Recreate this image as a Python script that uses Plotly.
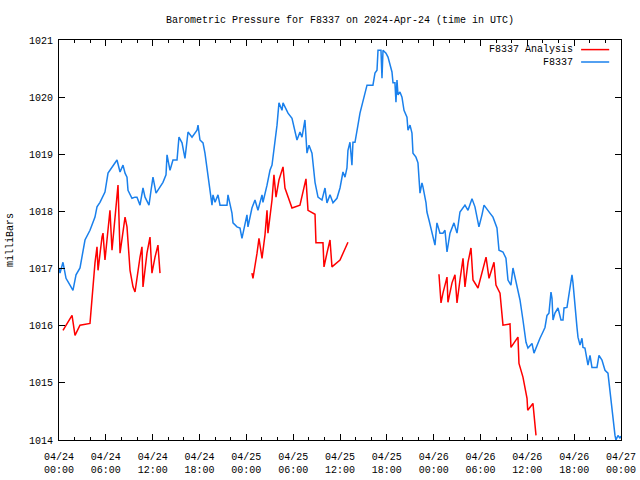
import pandas as pd
import plotly.graph_objects as go

START = "2024-04-24 00:00"
TITLE = "Barometric Pressure for F8337 on 2024-Apr-24 (time in UTC)"
Y_TITLE = "milliBars"
NAME_ANALYSIS = "F8337 Analysis"
NAME_OBS = "F8337"

# Observed series (hours since 04/24 00:00 UTC, millibars)
obs_hours = [
    0.00, 0.13, 0.51, 0.90, 1.41, 1.79, 2.18, 2.69, 3.33, 3.97, 4.61, 4.87, 5.25, 5.89,
    6.28, 6.79, 7.43, 7.82, 8.20, 8.46, 8.71, 8.84, 9.35, 9.74, 9.99, 10.38, 10.76, 11.02,
    11.53, 11.79, 12.04, 12.43, 12.81, 13.32, 13.71, 13.84, 14.22, 14.60, 15.12, 15.37,
    15.76, 16.14, 16.53, 17.04, 17.68, 17.81, 18.06, 18.45, 18.70, 19.09, 19.34, 19.60,
    19.73, 19.99, 20.37, 20.63, 21.52, 21.65, 22.16, 22.29, 22.80, 23.19, 23.44, 23.83,
    24.08, 24.21, 24.72, 25.11, 25.49, 26.01, 26.13, 26.65, 27.03, 27.29, 27.42, 27.67,
    27.93, 28.18, 28.57, 28.70, 29.21, 29.34, 29.85, 29.98, 30.49, 30.87, 31.13, 31.51,
    31.77, 32.03, 32.41, 32.80, 33.18, 33.69, 34.08, 34.33, 34.72, 35.10, 35.61, 36.00,
    36.38, 36.64, 36.89, 37.02, 37.28, 37.53, 37.66, 37.92, 38.18, 38.30, 38.56, 38.82,
    38.94, 39.20, 39.46, 40.22, 40.48, 40.74, 40.87, 41.25, 41.38, 41.51, 41.89, 42.15,
    42.40, 42.66, 42.79, 43.04, 43.17, 43.30, 43.43, 43.68, 43.94, 44.20, 44.58, 44.71,
    44.97, 45.22, 45.35, 45.73, 45.99, 46.25, 46.50, 46.63, 47.02, 47.14, 47.40, 47.78,
    48.17, 48.42, 48.81, 49.19, 49.45, 49.71, 50.09, 50.60, 50.99, 51.37, 52.01, 52.40,
    52.91, 53.29, 53.80, 54.19, 54.45, 55.21, 55.60, 56.11, 56.37, 56.88, 57.26, 57.52,
    57.90, 58.16, 58.67, 59.06, 59.44, 59.83, 60.08, 60.60, 60.85, 61.24, 61.62, 62.00,
    62.26, 62.52, 62.77, 63.03, 63.16, 63.29, 63.54, 63.93, 64.31, 64.57, 64.70, 65.08,
    65.21, 65.47, 65.72, 65.85, 66.11, 66.36, 66.49, 66.75, 67.00, 67.13, 67.38, 67.64,
    67.77, 68.03, 68.28, 68.92, 69.18, 69.56, 69.95, 70.33, 70.59, 70.84, 70.97, 71.23,
    71.35, 71.61, 71.87, 72.00,
]
obs_mb = [
    1017.01, 1016.92, 1017.11, 1016.83, 1016.71, 1016.62, 1016.89, 1017.01, 1017.50, 1017.67,
    1017.90, 1018.08, 1018.16, 1018.34, 1018.67, 1018.78, 1018.90, 1018.69, 1018.81, 1018.67,
    1018.60, 1018.37, 1018.23, 1018.25, 1018.25, 1018.11, 1018.41, 1018.25, 1018.11, 1018.37,
    1018.60, 1018.32, 1018.41, 1018.51, 1018.64, 1018.99, 1018.72, 1018.90, 1018.90, 1019.30,
    1019.20, 1018.93, 1019.39, 1019.30, 1019.42, 1019.51, 1019.25, 1019.20, 1019.02, 1018.64,
    1018.43, 1018.11, 1018.29, 1018.16, 1018.29, 1018.11, 1018.11, 1018.29, 1017.97, 1017.80,
    1017.73, 1017.71, 1017.53, 1017.76, 1017.94, 1017.73, 1018.06, 1018.20, 1018.02, 1018.29,
    1018.16, 1018.46, 1018.72, 1018.81, 1018.95, 1019.30, 1019.51, 1019.90, 1019.77, 1019.90,
    1019.77, 1019.72, 1019.63, 1019.55, 1019.25, 1019.39, 1019.30, 1019.60, 1019.02, 1019.16,
    1019.02, 1018.51, 1018.25, 1018.20, 1018.41, 1018.15, 1018.29, 1018.15, 1018.23, 1018.41,
    1018.69, 1018.60, 1018.76, 1019.07, 1019.21, 1018.81, 1019.21, 1019.21, 1019.48, 1019.51,
    1019.72, 1019.86, 1019.95, 1020.07, 1020.21, 1020.21, 1020.42, 1020.47, 1020.82, 1020.82,
    1020.33, 1020.82, 1020.77, 1020.70, 1020.56, 1020.44, 1020.25, 1020.25, 1019.91, 1020.30,
    1020.04, 1020.09, 1020.00, 1019.77, 1019.65, 1019.42, 1019.51, 1019.37, 1019.02, 1018.95,
    1018.85, 1018.32, 1018.50, 1018.43, 1018.15, 1017.99, 1017.85, 1017.62, 1017.41, 1017.80,
    1017.62, 1017.62, 1017.67, 1017.29, 1017.62, 1017.80, 1017.62, 1017.99, 1018.11, 1018.02,
    1018.22, 1018.08, 1017.73, 1017.94, 1018.11, 1017.97, 1017.90, 1017.71, 1017.32, 1017.29,
    1017.18, 1016.80, 1016.71, 1017.01, 1016.71, 1016.45, 1016.10, 1015.71, 1015.61, 1015.69,
    1015.52, 1015.66, 1015.78, 1015.89, 1015.97, 1016.18, 1016.22, 1016.59, 1016.48, 1016.10,
    1016.22, 1016.31, 1016.10, 1016.10, 1016.31, 1016.32, 1016.45, 1016.68, 1016.89, 1016.75,
    1016.27, 1015.97, 1015.80, 1015.66, 1015.78, 1015.62, 1015.61, 1015.45, 1015.31, 1015.48,
    1015.27, 1015.27, 1015.48, 1015.40, 1015.22, 1015.17, 1014.82, 1014.52, 1014.35, 1014.08,
    1014.00, 1014.08, 1014.03, 1014.07,
]

# Analysis series, three separate runs (gaps are None)
ana_hours = [
    0.51, 1.67, 2.05, 2.69, 3.97, 4.23, 4.61, 4.87, 5.00, 5.51, 5.64, 5.89, 6.15, 6.53,
    6.79, 7.17, 7.56, 7.82, 8.46, 8.71, 9.10, 9.48, 9.74, 10.38, 10.63, 10.76, 11.27,
    11.66, 11.91, 12.30, 12.68, 12.94,
    None,
    24.72, 24.85, 25.37, 25.62, 26.01, 26.39, 26.65, 26.77, 27.29, 27.54, 27.80, 28.18,
    28.70, 28.95, 29.85, 30.87, 31.64, 31.90, 32.80, 32.92, 33.82, 33.95, 34.33, 34.72,
    34.97, 36.00, 37.02,
    None,
    48.68, 48.94, 49.19, 49.71, 49.83, 50.35, 50.73, 50.99, 51.37, 51.76, 52.01, 52.40,
    52.78, 53.04, 53.68, 54.32, 54.71, 55.09, 55.73, 55.98, 56.50, 56.88, 57.78, 57.90,
    58.80, 58.93, 59.44, 59.96, 60.05, 60.72, 60.98, 61.11,
]
ana_mb = [
    1015.92, 1016.18, 1015.83, 1016.01, 1016.04, 1016.50, 1017.10, 1017.38, 1016.97, 1017.55,
    1017.62, 1017.15, 1017.55, 1018.02, 1017.32, 1017.85, 1018.46, 1017.27, 1017.90, 1017.73,
    1016.97, 1016.68, 1016.59, 1017.20, 1017.38, 1016.68, 1017.27, 1017.55, 1016.92, 1017.20,
    1017.41, 1016.92,
    None,
    1016.92, 1016.83, 1017.27, 1017.53, 1017.18, 1017.59, 1018.02, 1017.62, 1018.20, 1018.64,
    1018.25, 1018.55, 1018.78, 1018.41, 1018.06, 1018.11, 1018.57, 1018.02, 1017.95, 1017.45,
    1017.45, 1017.03, 1017.27, 1017.50, 1017.03, 1017.15, 1017.46,
    None,
    1016.90, 1016.40, 1016.57, 1016.85, 1016.41, 1016.75, 1016.89, 1016.40, 1016.80, 1017.18,
    1016.68, 1017.11, 1017.36, 1016.80, 1016.66, 1016.97, 1017.20, 1016.83, 1017.11, 1016.71,
    1016.57, 1016.01, 1016.03, 1015.62, 1015.80, 1015.34, 1015.10, 1014.73, 1014.52, 1014.64,
    1014.22, 1014.08,
]

x_range = ["2024-04-24 00:00", "2024-04-27 00:00"]
y_range = [1014, 1021]

RED = "#ff0000"
BLUE = "#1a80ec"
FONT = "Liberation Mono, DejaVu Sans Mono, monospace"

t0 = pd.Timestamp(START)


def to_time(hours):
    return [None if h is None else t0 + pd.Timedelta(hours=h) for h in hours]


fig = go.Figure()
fig.add_trace(go.Scatter(x=to_time(ana_hours), y=ana_mb, mode="lines", name=NAME_ANALYSIS,
                         line=dict(color=RED, width=1.5), connectgaps=False, showlegend=False))
fig.add_trace(go.Scatter(x=to_time(obs_hours), y=obs_mb, mode="lines", name=NAME_OBS,
                         line=dict(color=BLUE, width=1.5), showlegend=False))

# Legend drawn gnuplot-style: text right-aligned, sample line to its right
legend_items = [(NAME_ANALYSIS, RED, 0.976), (NAME_OBS, BLUE, 0.945)]
for name, color, ly in legend_items:
    fig.add_annotation(x=0.918, y=ly, xref="paper", yref="paper", text=name, showarrow=False,
                       xanchor="right", yanchor="middle", font=dict(family=FONT, size=10, color="black"))
    fig.add_shape(type="line", xref="paper", yref="paper", x0=0.929, x1=0.979, y0=ly, y1=ly,
                  line=dict(color=color, width=1.5))

# y-axis title as a rotated annotation placed left of the tick labels
fig.add_annotation(x=-0.087, y=0.5, xref="paper", yref="paper", text=Y_TITLE, showarrow=False,
                   textangle=-90, xanchor="center", yanchor="middle",
                   font=dict(family=FONT, size=10, color="black"))

fig.update_layout(
    width=640, height=480,
    margin=dict(l=59, r=19, t=40, b=40, autoexpand=False),
    paper_bgcolor="white", plot_bgcolor="white",
    font=dict(family=FONT, size=10, color="black"),
    title=dict(text=TITLE, x=0.5, xref="paper", xanchor="center", y=0.96, yanchor="middle",
               font=dict(family=FONT, size=10, color="black")),
    showlegend=False,
)
fig.update_xaxes(
    type="date", range=x_range, dtick=6 * 3600 * 1000, tick0="2024-04-24 00:00",
    tickformat="%m/%d<br>%H:%M", ticks="inside", ticklen=6, tickcolor="black",
    ticklabelstandoff=7,
    minor=dict(dtick=2 * 3600 * 1000, ticks="inside", ticklen=3, tickcolor="black", showgrid=False),
    showline=True, linecolor="black", linewidth=1, mirror="ticks", showgrid=False,
    zeroline=False, tickfont=dict(family=FONT, size=10, color="black"),
)
fig.update_yaxes(
    range=y_range, dtick=1, ticks="inside", ticklen=6, tickcolor="black",
    ticklabelstandoff=3,
    showline=True, linecolor="black", linewidth=1, mirror="ticks", showgrid=False,
    zeroline=False, tickfont=dict(family=FONT, size=10, color="black"),
)

fig.write_html("out.html", config={"displayModeBar": False},
               post_script="document.body.style.margin='0';")
